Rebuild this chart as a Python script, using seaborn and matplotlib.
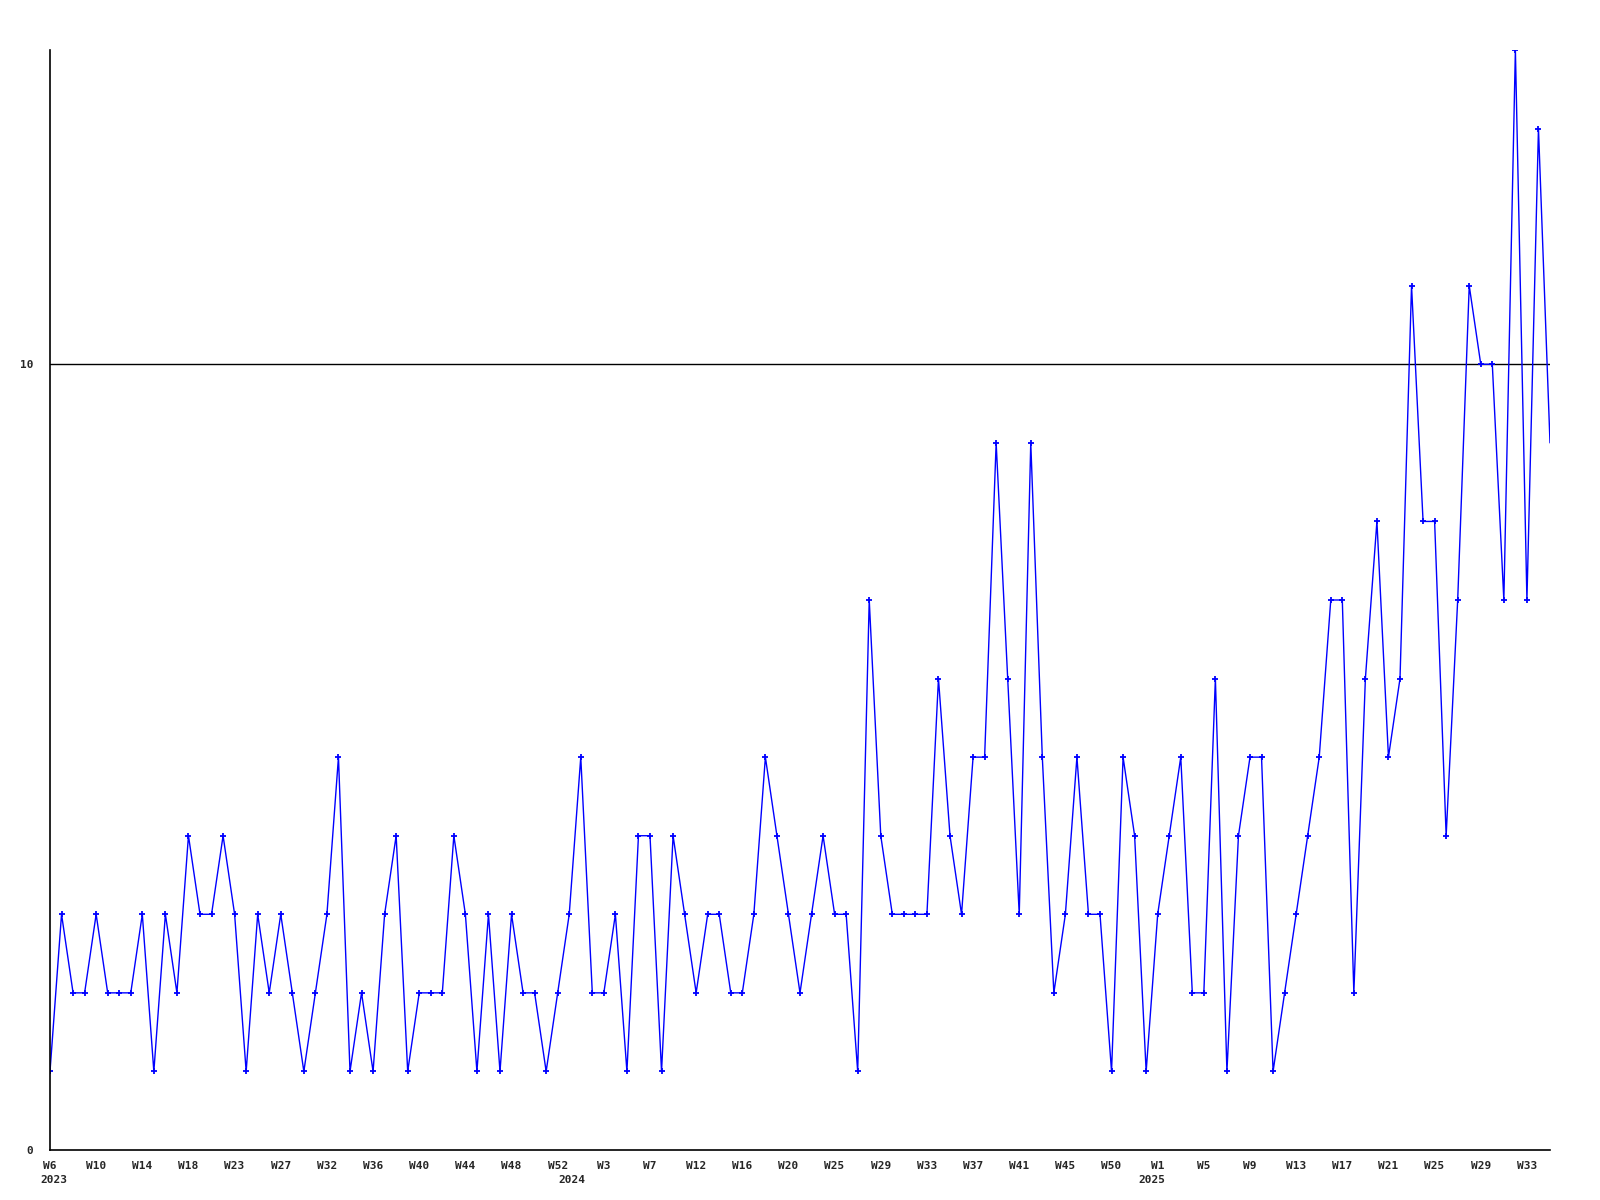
import numpy as np
import pandas as pd
import seaborn as sns
import matplotlib
matplotlib.use("Agg")
import matplotlib.pyplot as plt
import matplotlib.transforms as mtransforms

# weekly counts, 2023 W6 .. 2025 W34
counts = [1, 3, 2, 2, 3, 2, 2, 2, 3, 1, 3, 2, 4, 3, 3, 4, 3, 1, 3, 2,
          3, 2, 1, 2, 3, 5, 1, 2, 1, 3, 4, 1, 2, 2, 2, 4, 3, 1, 3, 1,
          3, 2, 2, 1, 2, 3, 5, 2, 2, 3, 1, 4, 4, 1, 4, 3, 2, 3, 3, 2,
          2, 3, 5, 4, 3, 2, 3, 4, 3, 3, 1, 7, 4, 3, 3, 3, 3, 6, 4, 3,
          5, 5, 9, 6, 3, 9, 5, 2, 3, 5, 3, 3, 1, 5, 4, 1, 3, 4, 5, 2,
          2, 6, 1, 4, 5, 5, 1, 2, 3, 4, 5, 7, 7, 2, 6, 8, 5, 6, 11, 8,
          8, 4, 7, 11, 10, 10, 7, 14, 7, 13, 9]

week_labels = ["W6", "W10", "W14", "W18", "W23", "W27", "W32", "W36", "W40",
               "W44", "W48", "W52", "W3", "W7", "W12", "W16", "W20", "W25",
               "W29", "W33", "W37", "W41", "W45", "W50", "W1", "W5", "W9",
               "W13", "W17", "W21", "W25", "W29", "W33"]
years = ["2023", "2024", "2025"]
year_pos = [0.3, 45.2, 95.5]

df = pd.DataFrame({"idx": np.arange(len(counts)), "count": counts})

sns.set_style("white")
plt.rcParams["font.family"] = ["DejaVu Sans Mono"]
plt.rcParams["font.weight"] = "bold"

fig = plt.figure(figsize=(16, 12), dpi=100)
ax = fig.add_axes([50 / 1600, 50 / 1200, 1500 / 1600, 1100 / 1200])

# last (current, partial) week is drawn without a marker
sns.lineplot(data=df, x="idx", y="count", ax=ax, color="#0000ff",
             linewidth=1.0, marker="+", markersize=4, markeredgewidth=1.3,
             markeredgecolor="#0000ff", markevery=list(range(len(counts) - 1)))

ax.axhline(10, color="black", linewidth=1, zorder=1)

ax.set_xlim(0, len(counts) - 1)
ax.set_ylim(0, 14)
ax.set_xticks(np.arange(0, 4 * len(week_labels), 4))
ax.set_xticklabels(week_labels, fontsize=8, fontweight="bold")
ax.set_yticks([0, 10])
ax.set_yticklabels(["0", "10"], fontsize=8, fontweight="bold")
ax.tick_params(axis="both", length=0)
ax.tick_params(axis="x", pad=8)
ax.tick_params(axis="y", pad=12)
ax.set_xlabel("")
ax.set_ylabel("")

for s in ["top", "right"]:
    ax.spines[s].set_visible(False)
for s in ["left", "bottom"]:
    ax.spines[s].set_color("black")
    ax.spines[s].set_linewidth(1.2)

trans = mtransforms.blended_transform_factory(ax.transData, fig.transFigure)
for yr, p in zip(years, year_pos):
    ax.text(p, 1 - 1180 / 1200, yr, transform=trans, ha="center", va="center",
            fontsize=8, fontweight="bold")

fig.savefig("out.png", dpi=100)
